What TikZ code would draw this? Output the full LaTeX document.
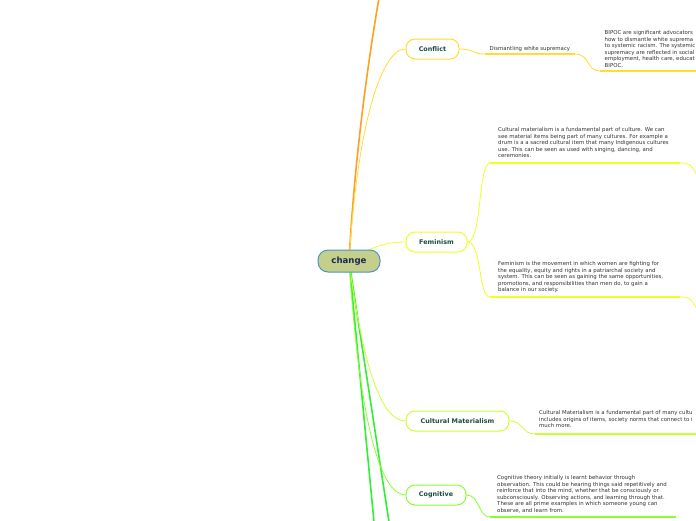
\documentclass[tikz,border=0pt]{standalone}
\usepackage{fontspec}
\setmainfont{DejaVu Sans}
\definecolor{hubfill}{HTML}{C3CF8A}
\definecolor{hubline}{HTML}{4E93C8}
\definecolor{hubtext}{HTML}{1A2A50}
\definecolor{labtext}{HTML}{1B4D3E}
\definecolor{bodytext}{HTML}{333333}
\definecolor{orangeline}{HTML}{FFA024}
\definecolor{conflictc}{HTML}{FFDD33}
\definecolor{feminismc}{HTML}{EEFF22}
\definecolor{culturec}{HTML}{CCFF33}
\definecolor{cognitivec}{HTML}{88FF33}
\definecolor{trunkgreen}{HTML}{33EE33}
\begin{document}
\begin{tikzpicture}[x=1pt,y=-1pt,
  topic/.style={draw=#1,line width=1pt,fill=white,rounded corners=9pt,
    minimum height=20pt,inner sep=0pt,text=labtext,
    font=\fontsize{6.4}{7}\selectfont\bfseries},
  note/.style={anchor=north west,inner sep=0pt,align=left,text=bodytext,
    font=\fontsize{5.4}{6.5}\selectfont},
  link/.style={draw=#1,line width=0.8pt},
  under/.style={draw=#1,line width=2.4pt}]
  \useasboundingbox (0,0) rectangle (696,520);
  \clip (0,0) rectangle (696,520);
  \coordinate (hub) at (349,261);
  % Branch boxes
  \node[topic=conflictc,minimum width=53pt] (conflict) at (432.5,49) {Conflict};
  \node[topic=feminismc,minimum width=61pt] (feminism) at (436.5,242) {Feminism};
  \node[topic=culturec,minimum width=103pt] (culture) at (457.5,421) {Cultural Materialism};
  \node[topic=cognitivec,minimum width=60pt] (cognitive) at (436,495) {Cognitive};
  % Trunk lines leaving the picture
  \draw[orangeline,line width=1.6pt] (hub) .. controls (355,150) and (370,50) .. (379,-2);
  \draw[trunkgreen,line width=1.6pt] (hub) -- (374,522);
  \draw[trunkgreen,line width=1.6pt] (hub) -- (389,522);
  % Hub to branches
  \draw[link=conflictc] (hub) .. controls (358,120) and (382,49) .. (conflict.west);
  \draw[link=feminismc] (hub) .. controls (372,246) and (388,242) .. (feminism.west);
  \draw[link=culturec] (hub) .. controls (362,360) and (380,421) .. (culture.west);
  \draw[link=cognitivec] (hub) .. controls (360,430) and (382,495) .. (cognitive.west);
  % Central node
  \node[draw=hubline,line width=1pt,fill=hubfill,rounded corners=10pt,
    minimum width=62pt,minimum height=22pt,inner sep=0pt,text=hubtext,
    font=\fontsize{8.6}{10}\selectfont\bfseries] (change) at (hub) {change};
  % Conflict
  \coordinate (c1a) at (485,54);
  \coordinate (c1b) at (575,54);
  \coordinate (c2a) at (600,71);
  \coordinate (c2b) at (700,71);
  \draw[link=conflictc] (conflict.east) .. controls (474,49) and (472,54) .. (c1a);
  \draw[under=conflictc] (c1a) -- (c1b);
  \node[anchor=base west,inner sep=0pt,text=bodytext,font=\fontsize{5.4}{6.5}\selectfont]
    (dismantle) at (489.5,50.5) {Dismantling white supremacy};
  \draw[link=conflictc] (c1b) .. controls (590,54) and (586,71) .. (c2a);
  \draw[under=conflictc] (c2a) -- (c2b);
  \node[note] (bipoc) at (604.5,30.5) {BIPOC are significant advocators\\
    how to dismantle white suprema\\
    to systemic racism. The systemic\\
    supremacy are reflected in social\\
    employment, health care, educat\\
    BIPOC.};
  % Feminism
  \coordinate (f1a) at (490,163);
  \coordinate (f1b) at (680,163);
  \coordinate (f2a) at (490,297);
  \coordinate (f2b) at (680,297);
  \draw[link=feminismc] (feminism.east) .. controls (482,242) and (478,163) .. (f1a);
  \draw[link=feminismc] (feminism.east) .. controls (482,242) and (478,297) .. (f2a);
  \draw[under=feminismc] (f1a) -- (f1b);
  \draw[under=feminismc] (f2a) -- (f2b);
  \draw[link=feminismc] (f1b) .. controls (690,163) .. (700,180);
  \draw[link=feminismc] (f2b) .. controls (690,297) .. (700,314);
  \node[note] (matnote) at (498,127.5) {Cultural materialism is a fundamental part of culture. We can\\
    see material items being part of many cultures. For example a\\
    drum is a a sacred cultural item that many Indigenous cultures\\
    use. This can be seen as used with singing, dancing, and\\
    ceremonies.};
  \node[note] (femnote) at (498,261.5) {Feminism is the movement in which women are fighting for\\
    the equality, equity and rights in a patriarchal society and\\
    system. This can be seen as gaining the same opportunities,\\
    promotions, and responsibilities than men do, to gain a\\
    balance in our society.};
  % Cultural Materialism
  \coordinate (m1a) at (535,434);
  \coordinate (m1b) at (700,434);
  \draw[link=culturec] (culture.east) .. controls (524,421) and (521,434) .. (m1a);
  \draw[under=culturec] (m1a) -- (m1b);
  \node[note] (cultnote) at (539,410.5) {Cultural Materialism is a fundamental part of many cultu\\
    includes origins of items, society norms that connect to i\\
    much more.};
  % Cognitive
  \coordinate (g1a) at (490,517);
  \coordinate (g1b) at (676,517);
  \draw[link=cognitivec] (cognitive.east) .. controls (480,495) and (478,517) .. (g1a);
  \draw[under=cognitivec] (g1a) -- (g1b);
  \node[note] (cognote) at (497,475.5) {Cognitive theory initially is learnt behavior through\\
    observation. This could be hearing things said repetitively and\\
    reinforce that into the mind, whether that be consciously or\\
    subconsciously. Observing actions, and learning through that.\\
    These are all prime examples in which someone young can\\
    observe, and learn from.};
\end{tikzpicture}
\end{document}
